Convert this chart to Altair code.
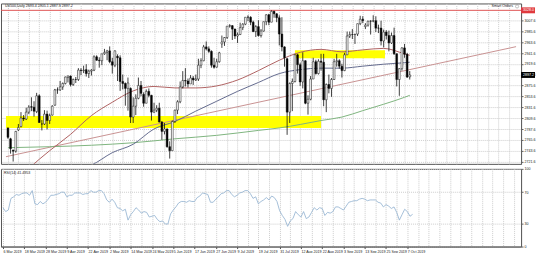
import altair as alt
import pandas as pd

# ---------------- data ----------------
# Daily bars 6 Mar 2019 .. 9 Oct 2019 (index 0..154)
opens = [
    2790, 2768, 2745, 2743, 2786, 2793, 2810, 2808, 2822, 2833, 2832, 2823, 2855, 2798, 2798, 2818, 2805, 2816,
    2836, 2867, 2867, 2873, 2880, 2892, 2895, 2878, 2888, 2888, 2907, 2906, 2908, 2900, 2905, 2907, 2934, 2927, 2926, 2940, 2943,
    2946, 2924, 2917, 2935, 2932, 2884, 2880, 2870, 2870, 2812, 2834, 2850, 2876, 2858, 2840, 2864, 2856, 2822, 2826, 2830, 2802, 2783, 2788,
    2752, 2744, 2803, 2826, 2843, 2873, 2886, 2885, 2879, 2891, 2887, 2889, 2917, 2926, 2954, 2950, 2945, 2917, 2913, 2924,
    2960, 2964, 2973, 2996, 2997, 2990, 2976, 2979, 2993, 3000, 3014, 3014, 3004, 2985, 2995, 2977, 2986, 3005, 3019, 3004, 3026, 3021, 3013,
    2980, 2954, 2930, 2822, 2880, 2884, 2938, 2918, 2883, 2926, 2840, 2848, 2889, 2924, 2900, 2925, 2923, 2847, 2878, 2870, 2888, 2924,
    2926, 2915, 2906, 2938, 2976, 2979, 2979, 2980, 3001, 3010, 2995, 2998, 3006, 3006, 3007, 2992, 2992, 2966, 2984, 2977, 2962,
    2977, 2940, 2888, 2910, 2952, 2939, 2893.4,
]
highs = [
    2791, 2770, 2746, 2784, 2798, 2822, 2816, 2831, 2836, 2852, 2844, 2861, 2858, 2806, 2826, 2825, 2819, 2836,
    2869, 2872, 2885, 2882, 2894, 2896, 2896, 2890, 2893, 2911, 2911, 2916, 2919, 2908, 2909, 2937, 2937, 2933, 2940, 2950, 2948,
    2955, 2932, 2947, 2939, 2937, 2898, 2882, 2892, 2872, 2852, 2858, 2892, 2885, 2862, 2868, 2870, 2857, 2841, 2836, 2841, 2804, 2800, 2789,
    2763, 2805, 2827, 2846, 2884, 2905, 2911, 2890, 2897, 2895, 2898, 2930, 2931, 2958, 2965, 2955, 2947, 2932, 2930, 2944,
    2977, 2974, 2996, 3000, 2998, 2991, 2983, 3003, 3002, 3014, 3018, 3016, 3007, 2998, 3008, 2990, 3005, 3020, 3021, 3028, 3027, 3022, 3018,
    3014, 2955, 2932, 2882, 2890, 2940, 2940, 2922, 2943, 2927, 2856, 2895, 2932, 2928, 2929, 2940, 2940, 2880, 2898, 2891, 2930, 2940,
    2929, 2920, 2942, 2985, 2985, 2990, 2980, 3001, 3017, 3016, 3002, 3007, 3008, 3018, 3016, 2999, 3007, 2989, 2988, 2987, 2983,
    2993, 2941, 2911, 2953, 2960, 2942, 2905.1,
]
lows = [
    2768, 2738, 2722, 2740, 2784, 2791, 2804, 2806, 2818, 2824, 2813, 2820, 2800, 2785, 2796, 2787, 2798, 2815,
    2835, 2859, 2865, 2867, 2878, 2882, 2874, 2875, 2881, 2885, 2897, 2901, 2894, 2891, 2896, 2905, 2926, 2912, 2917, 2938, 2927,
    2921, 2900, 2913, 2885, 2865, 2868, 2835, 2825, 2800, 2800, 2816, 2848, 2854, 2833, 2840, 2852, 2805, 2820, 2822, 2801, 2766, 2777, 2750,
    2728, 2744, 2800, 2818, 2840, 2870, 2874, 2872, 2879, 2877, 2885, 2885, 2911, 2925, 2947, 2942, 2912, 2910, 2912, 2922,
    2952, 2956, 2970, 2993, 2968, 2970, 2962, 2978, 2988, 2998, 3006, 2998, 2984, 2974, 2975, 2973, 2985, 2998, 2998, 3004, 3013, 3004, 2957,
    2945, 2914, 2776, 2800, 2824, 2882, 2900, 2875, 2870, 2838, 2817, 2846, 2889, 2898, 2898, 2906, 2834, 2822, 2860, 2853, 2887, 2914,
    2910, 2892, 2905, 2938, 2972, 2970, 2960, 2976, 2998, 3002, 2990, 2995, 2979, 3004, 2984, 2982, 2957, 2953, 2969, 2945, 2960,
    2938, 2874, 2855, 2906, 2932, 2891, 2887.9,
]
closes = [
    2771, 2748, 2743, 2783, 2791, 2810, 2808, 2822, 2832, 2832, 2824, 2855, 2801, 2798, 2818, 2805, 2815, 2834,
    2867, 2867, 2873, 2880, 2893, 2895, 2878, 2888, 2888, 2907, 2906, 2907, 2900, 2905, 2907, 2934, 2927, 2926, 2940, 2943, 2946,
    2924, 2917, 2946, 2932, 2884, 2880, 2870, 2881, 2812, 2834, 2850, 2876, 2860, 2840, 2864, 2856, 2822, 2826, 2830, 2802, 2783, 2788, 2752,
    2744, 2803, 2826, 2843, 2873, 2886, 2885, 2879, 2891, 2887, 2889, 2917, 2926, 2954, 2950, 2945, 2917, 2913, 2924, 2942,
    2964, 2973, 2996, 2997, 2990, 2976, 2979, 2993, 3000, 3014, 3014, 3004, 2985, 2995, 2977, 2986, 3005, 3019, 3004, 3026, 3021, 3013, 2980,
    2954, 2932, 2822, 2880, 2884, 2938, 2918, 2883, 2926, 2840, 2848, 2889, 2924, 2900, 2925, 2923, 2847, 2878, 2870, 2888, 2924, 2926,
    2915, 2906, 2938, 2976, 2979, 2979, 2980, 3001, 3010, 3007, 2998, 3006, 3006, 3007, 2992, 2992, 2966, 2984, 2977, 2962, 2977,
    2940, 2888, 2910, 2952, 2939, 2893, 2897.2,
]
rsi = [
    50, 45, 47, 62, 64, 67, 66, 68, 69, 69, 66, 72, 55, 54, 58, 55, 57, 61,
    66, 66, 67, 68, 70, 70, 64, 66, 66, 69, 69, 69, 67, 68, 68, 72, 70, 70, 72, 72, 68,
    60, 57, 61, 57, 50, 49, 46, 48, 34, 41, 45, 50, 47, 43, 45, 44, 38, 39, 40, 35, 32, 33, 29,
    29, 42, 47, 51, 56, 58, 58, 57, 59, 58, 58, 63, 65, 69, 68, 67, 57, 57, 61, 64,
    68, 69, 72, 72, 67, 64, 66, 69, 70, 72, 72, 68, 62, 64, 55, 58, 60, 63, 60, 65, 63, 58, 46,
    40, 35, 26, 33, 36, 45, 41, 38, 45, 36, 38, 44, 50, 47, 50, 49, 40, 44, 43, 45, 51, 51,
    49, 47, 52, 57, 58, 59, 59, 61, 62, 61, 59, 60, 60, 60, 57, 56, 51, 54, 52, 49, 51,
    44, 34, 41, 48, 45, 39, 41.5,
]

# moving averages, read at sample bars
ma50_idx = [0, 8, 16, 24, 32, 40, 48, 56, 64, 72, 80, 88, 96, 104, 112, 120, 128, 136, 144, 152, 154]
ma50_val = [2666, 2708, 2744, 2777, 2815, 2842, 2865, 2874, 2871, 2871, 2875, 2887, 2906, 2927, 2943, 2949, 2944, 2948, 2951, 2940, 2937]
ma100_idx = [0, 8, 16, 24, 32, 40, 48, 56, 64, 72, 80, 88, 96, 104, 112, 120, 128, 136, 144, 152, 154]
ma100_val = [2680, 2690, 2698, 2706, 2715, 2740, 2757, 2788, 2803, 2824, 2844, 2864, 2882, 2900, 2908, 2911, 2911, 2915, 2919, 2922, 2923]
ma200_idx = [0, 16, 32, 48, 64, 80, 96, 104, 112, 120, 128, 136, 144, 152, 154]
ma200_val = [2750, 2752, 2755, 2760, 2768, 2775, 2785, 2790, 2797, 2805, 2812, 2825, 2838, 2852, 2856]

# drawn objects
trend_idx = [-0.75, 194.75]
trend_val = [2731.8, 2954.5]
box_start = [-0.75, 110]
box_end = [120, 144.5]
box_low = [2790, 2931]
box_high = [2814, 2947]
resistance = [3028.0]

tag_price = [3028.0, 2897.2]
tag_text = ["3028.0", "2897.2"]
tag_low = [3022.0, 2891.2]
tag_high = [3034.0, 2903.2]
tag_fill = ["#e0393e", "#000000"]

x_labels = ["6 Mar 2019", "18 Mar 2019", "28 Mar 2019", "9 Apr 2019", "22 Apr 2019",
            "2 May 2019", "14 May 2019", "24 May 2019", "5 Jun 2019", "17 Jun 2019",
            "27 Jun 2019", "9 Jul 2019", "19 Jul 2019", "31 Jul 2019", "12 Aug 2019",
            "22 Aug 2019", "3 Sep 2019", "13 Sep 2019", "25 Sep 2019", "7 Oct 2019"]
price_ticks = [2721.6, 2743.6, 2765.6, 2787.6, 2809.6, 2831.6, 2853.6, 2875.6,
               2897.6, 2919.6, 2941.6, 2963.6, 2985.6, 3007.6]
rsi_ticks = [0, 30, 70, 100]
title_text = ["US500,Daily  2893.4 2905.1 2887.9 2897.2"]
rsi_title = ["RSI(14) 41.4953"]

# ---------------- frames ----------------
bars = pd.DataFrame({"i": list(range(len(closes))), "open": opens, "high": highs,
                     "low": lows, "close": closes, "rsi": rsi})
ma50 = pd.DataFrame({"i": ma50_idx, "v": ma50_val})
ma100 = pd.DataFrame({"i": ma100_idx, "v": ma100_val})
ma200 = pd.DataFrame({"i": ma200_idx, "v": ma200_val})
trend = pd.DataFrame({"i": trend_idx, "v": trend_val})
boxes = pd.DataFrame({"a": box_start, "b": box_end, "lo": box_low, "hi": box_high})
res = pd.DataFrame({"p": resistance})
tags = pd.DataFrame({"p": tag_price, "t": tag_text, "lo": tag_low, "hi": tag_high, "f": tag_fill})
ttl = pd.DataFrame({"t": title_text})
rttl = pd.DataFrame({"t": rsi_title})

FONT = "Liberation Sans"
FS = 3.6
GRID = "#cdcdcd"
grid_x = list(range(0, 195, 4))

XS = alt.Scale(domain=[-0.75, 194.75], nice=False, zero=False)
YP = alt.Scale(domain=[2717.3, 3041.9], nice=False, zero=False)
YR = alt.Scale(domain=[0, 100], nice=False, zero=False)

x_top_axis = alt.Axis(values=grid_x, labels=False, ticks=False, domain=False, grid=True,
                      gridColor=GRID, gridDash=[1, 1], title=None)
label_js = "[" + ",".join("'" + s + "'" for s in x_labels) + "]"
cond = "datum.value % 8 == 0 && datum.value <= 152"
x_bot_axis = alt.Axis(values=grid_x, grid=True, gridColor=GRID, gridDash=[1, 1], title=None,
                      labelExpr=f"({cond}) ? {label_js}[datum.value / 8] : ''",
                      labelFont=FONT, labelFontSize=FS, labelColor="#202020",
                      labelAlign="left", labelPadding=1, labelOverlap=False, labelFlush=False,
                      tickSize=2, tickColor={"condition": {"test": cond, "value": "#505050"},
                                             "value": "transparent"},
                      domainColor="#606060")
yp_axis = alt.Axis(orient="right", values=price_ticks, format=".1f", title=None,
                   labelFont=FONT, labelFontSize=FS, labelColor="#202020", labelPadding=1,
                   tickSize=2, tickColor="#606060", domainColor="#606060",
                   grid=True, gridColor=GRID, gridDash=[1, 1])
yr_axis = alt.Axis(orient="right", values=rsi_ticks, title=None,
                   labelFont=FONT, labelFontSize=FS, labelColor="#202020", labelPadding=1,
                   tickSize=2, tickColor="#606060", domainColor="#606060",
                   grid=True, gridColor=GRID, gridDash=[1, 1])


def X(f):
    return alt.X(f, type="quantitative", scale=XS, axis=x_top_axis)


def YPr(f):
    return alt.Y(f, type="quantitative", scale=YP, axis=yp_axis)


box_layer = alt.Chart(boxes).mark_rect(color="#ffff00").encode(
    x=X("a"), x2="b", y=YPr("lo"), y2="hi")
res_layer = alt.Chart(res).mark_rule(color="#e05555", strokeWidth=1).encode(y=YPr("p"))
trend_layer = alt.Chart(trend).mark_line(color="#c99393", strokeWidth=1, clip=True).encode(
    x=X("i"), y=YPr("v"))
ma200_layer = alt.Chart(ma200).mark_line(color="#7fb57f", strokeWidth=1, clip=True,
                                          interpolate="monotone").encode(x=X("i"), y=YPr("v"))
ma100_layer = alt.Chart(ma100).mark_line(color="#646b8f", strokeWidth=1, clip=True,
                                          interpolate="monotone").encode(x=X("i"), y=YPr("v"))
ma50_layer = alt.Chart(ma50).mark_line(color="#b06262", strokeWidth=1, clip=True,
                                        interpolate="monotone").encode(x=X("i"), y=YPr("v"))
wick_layer = alt.Chart(bars).mark_rule(color="#111111", strokeWidth=0.8).encode(
    x=X("i"), y=YPr("low"), y2="high")
body_layer = alt.Chart(bars).mark_bar(size=1.8, stroke="#111111", strokeWidth=0.5).encode(
    x=X("i"), y=YPr("open"), y2="close",
    color=alt.condition("datum.close >= datum.open", alt.value("#ffffff"), alt.value("#000000")))
tag_rect = alt.Chart(tags).mark_rect().encode(
    x=alt.value(522), x2=alt.value(536), y=YPr("lo"), y2="hi",
    color=alt.Color("f:N", scale=None))
tag_txt = alt.Chart(tags).mark_text(align="left", baseline="middle", font=FONT, fontSize=FS,
                                    color="#ffffff").encode(
    x=alt.value(524), y=YPr("p"), text="t:N")
title_layer = alt.Chart(ttl).mark_text(align="left", baseline="top", font=FONT, fontSize=FS,
                                       color="#202020").encode(
    x=alt.value(4), y=alt.value(1), text="t:N")
smart_layer = alt.Chart(pd.DataFrame({"t": ["Smart Orders"]})).mark_text(
    align="right", baseline="top", font=FONT, fontSize=FS, color="#202020").encode(
    x=alt.value(514), y=alt.value(1), text="t:N")
smart_icon = alt.Chart(pd.DataFrame({"t": ["o"]})).mark_point(
    shape="circle", size=10, color="#707070", strokeWidth=0.6).encode(
    x=alt.value(518), y=alt.value(3))

price = alt.layer(box_layer, res_layer, trend_layer, ma200_layer, ma100_layer, ma50_layer,
                  wick_layer, body_layer, tag_rect, tag_txt, title_layer, smart_layer,
                  smart_icon).properties(width=522, height=161)

rsi_line = alt.Chart(bars).mark_line(color="#8fb0cf", strokeWidth=0.8).encode(
    x=alt.X("i:Q", scale=XS, axis=x_bot_axis),
    y=alt.Y("rsi:Q", scale=YR, axis=yr_axis))
rsi_lbl = alt.Chart(rttl).mark_text(align="left", baseline="top", font=FONT, fontSize=FS,
                                    color="#202020").encode(
    x=alt.value(3), y=alt.value(2), text="t:N")
rsi_panel = alt.layer(rsi_line, rsi_lbl).properties(width=522, height=78)

chart = alt.vconcat(price, rsi_panel, spacing=1).properties(
    padding={"left": 0, "top": 2, "right": 0, "bottom": 0},
    background="#ffffff",
).configure_view(stroke="#555555", strokeWidth=1)

chart.save("out.html", embed_options={"renderer": "svg", "actions": False})
